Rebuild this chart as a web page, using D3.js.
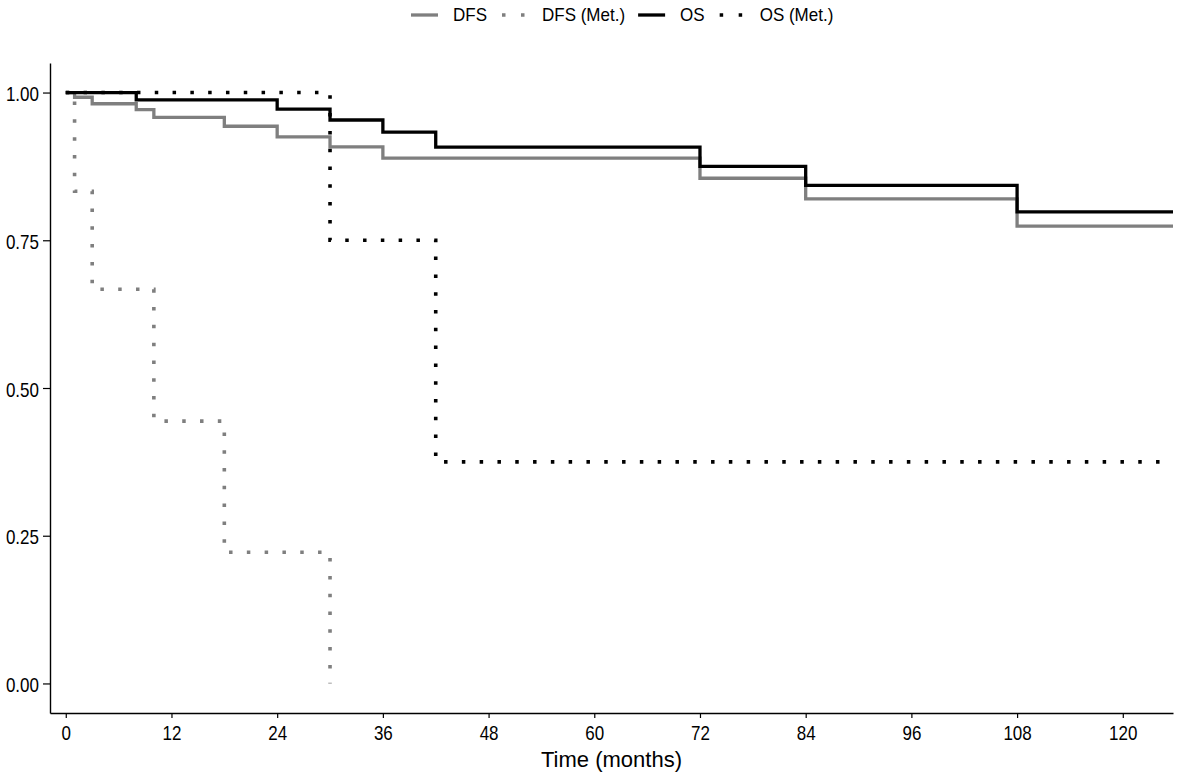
<!DOCTYPE html>
<html>
<head>
<meta charset="utf-8">
<script src="https://cdn.jsdelivr.net/npm/d3@7"></script>
<style>
  html, body { margin: 0; padding: 0; background: #fff; }
  svg { display: block; font-family: "Liberation Sans", Arial, sans-serif; }
</style>
</head>
<body>
<svg id="chart" width="1181" height="772"></svg>
<script>
// ---- data ----
const seriesNames = ["DFS", "DFS (Met.)", "OS", "OS (Met.)"];
const dfsTime = [0, 1, 3, 8, 10, 18, 24, 30, 36, 72, 84, 108, 125.7];
const dfsSurv = [1, 0.992, 0.981, 0.971, 0.958, 0.943, 0.925, 0.908, 0.889, 0.855, 0.820, 0.774, 0.774];
const dfsMetTime = [0, 1, 3, 10, 18, 30];
const dfsMetSurv = [1, 0.833, 0.667, 0.444, 0.222, 0];
const osTime = [0, 8, 24, 30, 36, 42, 72, 84, 108, 125.7];
const osSurv = [1, 0.9875, 0.972, 0.9535, 0.933, 0.9075, 0.875, 0.843, 0.798, 0.798];
const osMetTime = [0, 30, 42, 125.7];
const osMetSurv = [1, 0.75, 0.375, 0.375];
const xTicks = [0, 12, 24, 36, 48, 60, 72, 84, 96, 108, 120];
const yTicks = [0, 0.25, 0.5, 0.75, 1];
const xTitle = "Time (months)";

const styles = [
  { color: "#7f7f7f", dash: null },
  { color: "#7f7f7f", dash: "3.5,14.3" },
  { color: "#000000", dash: null },
  { color: "#000000", dash: "3.5,14.3" }
];
const series = [
  { time: dfsTime, surv: dfsSurv },
  { time: dfsMetTime, surv: dfsMetSurv },
  { time: osTime, surv: osSurv },
  { time: osMetTime, surv: osMetSurv }
].map((s, i) => ({ name: seriesNames[i], pts: s.time.map((t, j) => [t, s.surv[j]]), ...styles[i] }));

const svg = d3.select("#chart");
const mLeft = 50, mRight = 1173, mTop = 63, mBottom = 713;

const x = d3.scaleLinear().domain([-1.79, 125.7]).range([mLeft, mRight]);
const y = d3.scaleLinear().domain([-0.05, 1.05]).range([mBottom, mTop]);

// axes
const xAxis = svg.append("g").attr("transform", `translate(0,${mBottom})`)
  .call(d3.axisBottom(x).tickValues(xTicks).tickSize(5).tickSizeOuter(0));
const yAxis = svg.append("g").attr("transform", `translate(${mLeft},0)`)
  .call(d3.axisLeft(y).tickValues(yTicks).tickFormat(d3.format(".2f")).tickSize(7).tickSizeOuter(0));
[xAxis, yAxis].forEach(g => {
  g.select(".domain").attr("stroke", "#000").attr("stroke-width", 1.4);
  g.selectAll(".tick line").attr("stroke", "#000").attr("stroke-width", 1.2);
  g.selectAll(".tick text").attr("fill", "#000").style("font-size", "17px")
    .style("font-family", "'Liberation Sans', Arial, sans-serif")
    .attr("x", null).attr("y", null).attr("dy", null);
});
xAxis.selectAll(".tick text").attr("transform", "translate(0,27) scale(1,1.2)");
yAxis.selectAll(".tick text").attr("transform", "translate(-11,8) scale(1,1.2)");

svg.append("text").attr("x", (mLeft + mRight) / 2).attr("y", 766.5)
  .attr("text-anchor", "middle").style("font-size", "22px").attr("fill", "#000")
  .text(xTitle);

// curves
const line = d3.line().x(d => x(d[0])).y(d => y(d[1])).curve(d3.curveStepAfter);
series.forEach(s => {
  svg.append("path").datum(s.pts)
    .attr("d", line)
    .attr("fill", "none")
    .attr("stroke", s.color)
    .attr("stroke-width", s.dash ? 3.6 : 3.3)
    .attr("stroke-dasharray", s.dash)
    .attr("stroke-linejoin", "miter");
});

// legend
const lg = svg.append("g").attr("transform", "translate(0,15)");
let cx = 411;
series.forEach(s => {
  lg.append("line").attr("x1", cx).attr("x2", cx + 27).attr("y1", 0).attr("y2", 0)
    .attr("stroke", s.color).attr("stroke-width", s.dash ? 3.6 : 3.3)
    .attr("stroke-dasharray", s.dash ? "3.5,15.5" : null)
    .attr("stroke-dashoffset", s.dash ? -2 : null);
  const t = lg.append("text").attr("x", cx + 42).attr("y", 0)
    .attr("transform", null)
    .style("font-size", "17px").attr("fill", "#000").text(s.name);
  const w = t.node().getComputedTextLength();
  t.attr("x", null).attr("y", null)
    .attr("transform", `translate(${cx + 42},6) scale(1,1.1)`);
  cx = cx + 42 + w + 13;
});
</script>
</body>
</html>
